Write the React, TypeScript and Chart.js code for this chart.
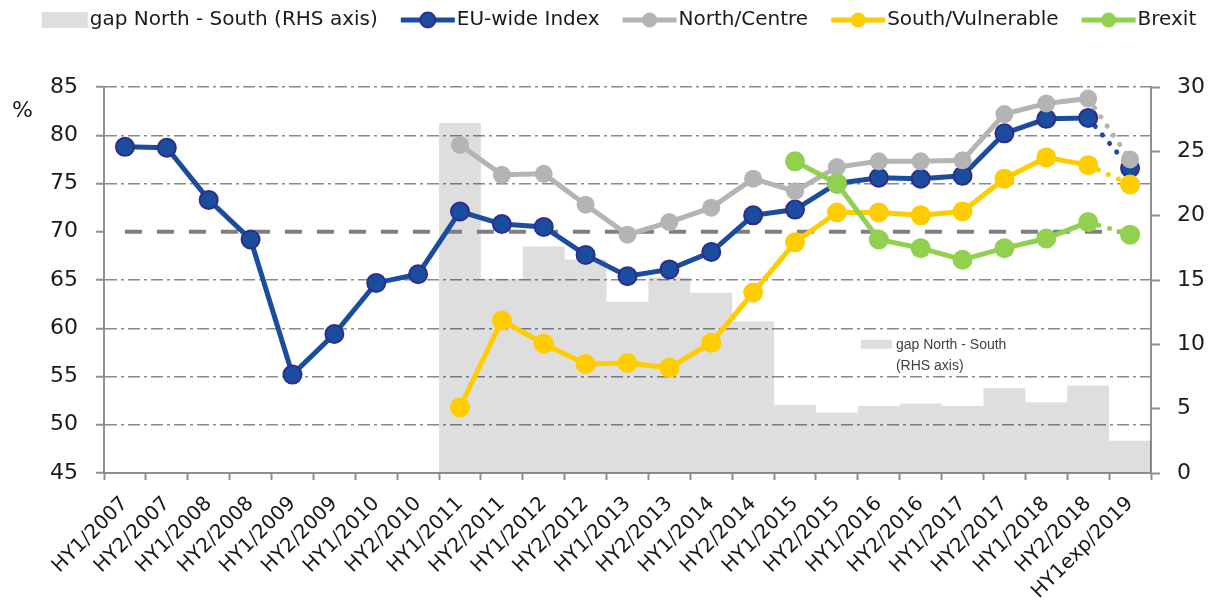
import { useEffect, useRef } from 'react';
import { Chart, registerables } from 'chart.js';

Chart.register(...registerables);

const CATEGORIES = [
  'HY1/2007', 'HY2/2007', 'HY1/2008', 'HY2/2008', 'HY1/2009', 'HY2/2009',
  'HY1/2010', 'HY2/2010', 'HY1/2011', 'HY2/2011', 'HY1/2012', 'HY2/2012',
  'HY1/2013', 'HY2/2013', 'HY1/2014', 'HY2/2014', 'HY1/2015', 'HY2/2015',
  'HY1/2016', 'HY2/2016', 'HY1/2017', 'HY2/2017', 'HY1/2018', 'HY2/2018',
  'HY1exp/2019',
];

const EU_WIDE = [
  78.8, 78.7, 73.3, 69.2, 55.2, 59.4, 64.7, 65.6, 72.1, 70.8, 70.5, 67.6,
  65.4, 66.1, 67.9, 71.7, 72.3, 75.0, 75.6, 75.5, 75.8, 80.2, 81.7, 81.8, 76.6,
];

const NORTH_CENTRE = [
  null, null, null, null, null, null, null, null, 79.0, 75.9, 76.0, 72.8,
  69.7, 71.0, 72.5, 75.5, 74.2, 76.7, 77.3, 77.3, 77.4, 82.2, 83.3, 83.8, 77.5,
];

const SOUTH_VULNERABLE = [
  null, null, null, null, null, null, null, null, 51.8, 60.8, 58.4, 56.3,
  56.4, 55.9, 58.5, 63.7, 68.9, 72.0, 72.0, 71.7, 72.1, 75.5, 77.7, 76.9, 74.9,
];

const BREXIT = [
  null, null, null, null, null, null, null, null, null, null, null, null,
  null, null, null, null, 77.3, 75.0, 69.2, 68.3, 67.1, 68.3, 69.3, 71.0, 69.7,
];

const GAP_NORTH_SOUTH = [
  null, null, null, null, null, null, null, null, 27.2, 15.1, 17.6, 16.6,
  13.3, 15.2, 14.0, 11.8, 5.3, 4.7, 5.2, 5.4, 5.2, 6.6, 5.5, 6.8, 2.5,
];

const THRESHOLD = [
  70, 70, 70, 70, 70, 70, 70, 70, 70, 70, 70, 70, 70,
  70, 70, 70, 70, 70, 70, 70, 70, 70, 70, 70, 70,
];

const LEFT_AXIS = { min: 45, max: 85, step: 5 };
const RIGHT_AXIS = { min: 0, max: 30, step: 5 };

const LABEL_GAP = 'gap North - South (RHS axis)';
const LABEL_EU = 'EU-wide Index';
const LABEL_NORTH = 'North/Centre';
const LABEL_SOUTH = 'South/Vulnerable';
const LABEL_BREXIT = 'Brexit';
const ANNOT_LINES = ['gap North - South', '(RHS axis)'];
const ANNOT_CATEGORY = 17;
const ANNOT_VALUE = 58.4;
const UNIT_LABEL = '%';

const FONT = '"DejaVu Sans", sans-serif';
const TEXT_COLOR = '#1a1a1a';
const AXIS_COLOR = '#8f8f8f';
const GRID_COLOR = '#8a8a8a';
const EU_COLOR = '#1a4d9e';
const EU_BORDER = '#302c8c';
const NORTH_COLOR = '#b4b4b4';
const SOUTH_COLOR = '#ffcc00';
const BREXIT_COLOR = '#92d050';
const GAP_COLOR = 'rgba(0,0,0,0.13)';
const GAP_SWATCH = '#dedede';
const THRESHOLD_COLOR = '#7f7f7f';

const W = 1212;
const H = 608;
const LEG_BOX = 64;
const LAST = CATEGORIES.length - 1;

function makeSymbol(kind: 'box' | 'line', color: string, border?: string) {
  const c = document.createElement('canvas');
  c.width = LEG_BOX + 20;
  c.height = 24;
  const g = c.getContext('2d')!;
  const end = LEG_BOX + 18;
  if (kind === 'box') {
    g.fillStyle = color;
    g.fillRect(end - 46, 4, 46, 16);
  } else {
    g.strokeStyle = color;
    g.lineWidth = 5;
    g.beginPath();
    g.moveTo(end - 54, 12);
    g.lineTo(end, 12);
    g.stroke();
    g.beginPath();
    g.arc(end - 27, 12, 7.5, 0, Math.PI * 2);
    g.fillStyle = color;
    g.fill();
    if (border) {
      g.lineWidth = 2;
      g.strokeStyle = border;
      g.stroke();
    }
  }
  return c;
}

const dottedLast = {
  borderDash: (ctx: any) => (ctx.p1DataIndex === LAST ? [0.1, 11] : undefined),
};

export default function App() {
  const ref = useRef<HTMLCanvasElement | null>(null);

  useEffect(() => {
    document.body.style.margin = '0';
    document.body.style.overflow = 'hidden';
    if (!ref.current) return;
    const symbols = [
      makeSymbol('box', GAP_SWATCH),
      makeSymbol('line', EU_COLOR, EU_BORDER),
      makeSymbol('line', NORTH_COLOR),
      makeSymbol('line', SOUTH_COLOR),
      makeSymbol('line', BREXIT_COLOR),
    ];
    const legendLabels = [LABEL_GAP, LABEL_EU, LABEL_NORTH, LABEL_SOUTH, LABEL_BREXIT];

    const legendFit = {
      id: 'legendFit',
      beforeLayout(chart: any) {
        const lg = chart.legend;
        if (!lg || lg.__patched) return;
        const orig = lg.fit;
        lg.fit = function () {
          orig.call(this);
          this.height = 82;
        };
        lg.__patched = true;
      },
    };

    const extras = {
      id: 'extras',
      afterDatasetsDraw(chart: any) {
        const { ctx, scales, chartArea } = chart;
        const x = scales.x.getPixelForValue(ANNOT_CATEGORY) + 24;
        const y = scales.y.getPixelForValue(ANNOT_VALUE);
        ctx.save();
        ctx.fillStyle = GAP_SWATCH;
        ctx.fillRect(x, y - 4, 31, 9);
        ctx.font = '14px "Liberation Sans", sans-serif';
        ctx.fillStyle = '#404040';
        ctx.textBaseline = 'middle';
        ctx.textAlign = 'left';
        ctx.fillText(ANNOT_LINES[0], x + 35, y + 1);
        ctx.fillText(ANNOT_LINES[1], x + 35, y + 22);
        ctx.font = '22px ' + FONT;
        ctx.fillStyle = TEXT_COLOR;
        ctx.fillText(UNIT_LABEL, 12, chartArea.top + 24);
        ctx.restore();
      },
    };

    const chart = new Chart(ref.current, {
      type: 'bar',
      data: {
        labels: CATEGORIES,
        datasets: [
          {
            type: 'bar',
            label: LABEL_GAP,
            data: GAP_NORTH_SOUTH as any,
            yAxisID: 'y1',
            backgroundColor: GAP_COLOR,
            borderWidth: 0,
            inflateAmount: 0,
            barPercentage: 1,
            categoryPercentage: 1,
            order: 6,
          },
          {
            type: 'line',
            label: LABEL_EU,
            data: EU_WIDE as any,
            yAxisID: 'y',
            borderColor: EU_COLOR,
            backgroundColor: EU_COLOR,
            borderWidth: 5,
            borderCapStyle: 'round',
            pointRadius: 9,
            pointBorderWidth: 2,
            pointBorderColor: EU_BORDER,
            pointBackgroundColor: EU_COLOR,
            segment: dottedLast as any,
            order: 4,
          },
          {
            type: 'line',
            label: LABEL_NORTH,
            data: NORTH_CENTRE as any,
            yAxisID: 'y',
            borderColor: NORTH_COLOR,
            backgroundColor: NORTH_COLOR,
            borderWidth: 5,
            borderCapStyle: 'round',
            pointRadius: 9,
            pointBorderWidth: 0,
            pointBackgroundColor: NORTH_COLOR,
            segment: dottedLast as any,
            order: 3,
          },
          {
            type: 'line',
            label: LABEL_SOUTH,
            data: SOUTH_VULNERABLE as any,
            yAxisID: 'y',
            borderColor: SOUTH_COLOR,
            backgroundColor: SOUTH_COLOR,
            borderWidth: 5,
            borderCapStyle: 'round',
            pointRadius: 10,
            pointBorderWidth: 0,
            pointBackgroundColor: SOUTH_COLOR,
            segment: dottedLast as any,
            order: 2,
          },
          {
            type: 'line',
            label: LABEL_BREXIT,
            data: BREXIT as any,
            yAxisID: 'y',
            borderColor: BREXIT_COLOR,
            backgroundColor: BREXIT_COLOR,
            borderWidth: 5,
            borderCapStyle: 'round',
            pointRadius: 10,
            pointBorderWidth: 0,
            pointBackgroundColor: BREXIT_COLOR,
            segment: dottedLast as any,
            order: 1,
          },
          {
            type: 'line',
            label: 'threshold',
            data: THRESHOLD,
            yAxisID: 'y',
            borderColor: THRESHOLD_COLOR,
            borderWidth: 4,
            borderDash: [17, 15],
            pointRadius: 0,
            order: 5,
          },
        ],
      },
      options: {
        responsive: false,
        animation: false,
        layout: { padding: { top: 5, left: 0, right: 0, bottom: 0 } },
        plugins: {
          tooltip: { enabled: false },
          legend: {
            display: true,
            position: 'top',
            labels: {
              usePointStyle: true,
              pointStyleWidth: LEG_BOX,
              boxHeight: 20,
              padding: 5,
              color: TEXT_COLOR,
              font: { family: FONT, size: 20 },
              generateLabels: () =>
                legendLabels.map((text, i) => ({
                  text,
                  pointStyle: symbols[i] as any,
                  fillStyle: 'transparent',
                  strokeStyle: 'transparent',
                  lineWidth: 0,
                  hidden: false,
                  datasetIndex: i,
                  fontColor: TEXT_COLOR,
                })),
            },
          },
        },
        scales: {
          x: {
            type: 'category',
            offset: true,
            grid: {
              offset: true,
              drawOnChartArea: false,
              drawTicks: true,
              tickLength: 7,
              tickColor: AXIS_COLOR,
              tickWidth: 2,
            },
            border: { display: true, color: AXIS_COLOR, width: 2 },
            ticks: {
              autoSkip: false,
              minRotation: 45,
              maxRotation: 45,
              padding: 12,
              color: TEXT_COLOR,
              font: { family: FONT, size: 20 },
            },
            afterFit: (s: any) => {
              s.height = 135;
            },
          },
          y: {
            type: 'linear',
            position: 'left',
            min: LEFT_AXIS.min,
            max: LEFT_AXIS.max,
            ticks: {
              stepSize: LEFT_AXIS.step,
              padding: 18,
              color: TEXT_COLOR,
              font: { family: FONT, size: 22 },
            },
            grid: {
              color: (ctx: any) =>
                ctx.tick && (ctx.tick.value === 45 || ctx.tick.value === 70) ? 'transparent' : GRID_COLOR,
              lineWidth: 1.5,
              tickColor: AXIS_COLOR,
              tickWidth: 2,
              tickLength: 8,
            },
            border: { display: true, color: AXIS_COLOR, width: 2, dash: [12, 4, 3, 4] },
            afterFit: (s: any) => {
              s.width = 104;
            },
          },
          y1: {
            type: 'linear',
            position: 'right',
            min: RIGHT_AXIS.min,
            max: RIGHT_AXIS.max,
            ticks: {
              stepSize: RIGHT_AXIS.step,
              padding: 17,
              color: TEXT_COLOR,
              font: { family: FONT, size: 22 },
            },
            grid: {
              drawOnChartArea: false,
              tickColor: AXIS_COLOR,
              tickWidth: 2,
              tickLength: 9,
            },
            border: { display: true, color: AXIS_COLOR, width: 2 },
            afterFit: (s: any) => {
              s.width = 61;
            },
          },
        },
      } as any,
      plugins: [legendFit, extras],
    });
    return () => chart.destroy();
  }, []);

  return (
    <div style={{ width: W, height: H, position: 'relative' }}>
      <canvas ref={ref} width={W} height={H} style={{ display: 'block' }} />
    </div>
  );
}
